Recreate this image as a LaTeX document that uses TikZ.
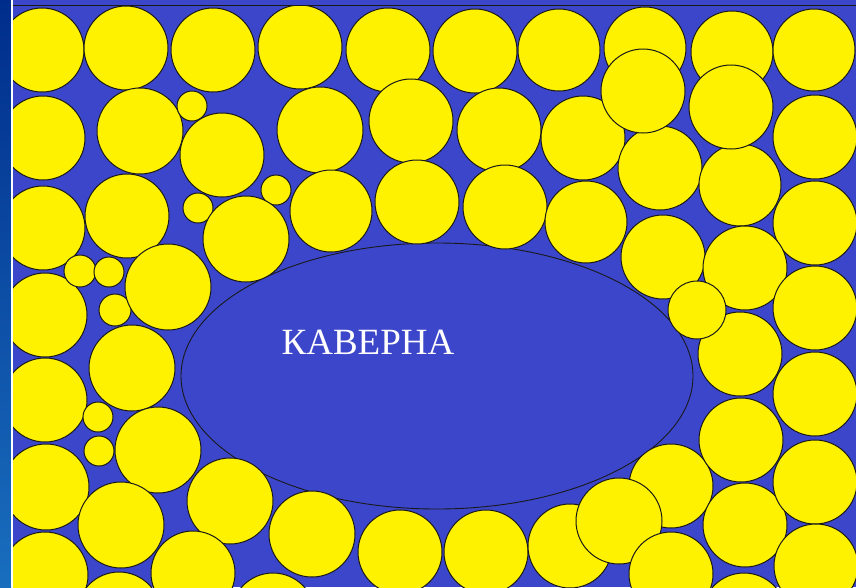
\documentclass[tikz,border=0pt]{standalone}
\usepackage{fontspec}
\setmainfont{Liberation Serif}
\definecolor{cbg}{RGB}{60,70,202}
\definecolor{cgrain}{RGB}{255,242,0}
\definecolor{cnavy}{RGB}{0,45,140}
\definecolor{cstrip}{RGB}{25,110,190}
\tikzset{rock/.style={x=1pt,y=-1pt},
  grain/.style={fill=cgrain,draw=black!90,line width=1pt}}

\begin{document}
\begin{tikzpicture}[rock]
    \useasboundingbox (0,0) rectangle (856,587);
    \fill[cbg] (0,0) rectangle (856,587); % background
    \shade[top color=cnavy,bottom color=cstrip] (0,0) rectangle (11,587); % left strip
    \fill[white] (11,0) rectangle (13,587);
    \draw[black!90,line width=0.9pt,fill=cbg] (437,376) ellipse [x radius=256,y radius=133]; % cavern
    \begin{scope}
      \clip (13,5) rectangle (856,587);
      % top row
      \foreach \x/\y/\r in {42/50/42,126/48/42,213/50/42,300/47/42,388/50/42,475/51/42,
          559/50/41,645/48/41,732/52/41,814/50/41}
        \draw[grain] (\x,\y) circle (\r);
      % second row
      \foreach \x/\y/\r in {43/138/42,140/131/43,192/106/15,222/155/42,320/130/43,411/121/42,
          499/130/42,583/138/42,815/137/42,660/168/42,740/185/41,643/91/42,731/107/42}
        \draw[grain] (\x,\y) circle (\r);
      % third row
      \foreach \x/\y/\r in {43/228/42,127/216/42,198/208/15,276/190/15,246/239/43,331/211/41,
          417/202/42,505/207/42,586/222/41,815/223/42,663/257/42,745/268/42}
        \draw[grain] (\x,\y) circle (\r);
      % left side
      \foreach \x/\y/\r in {45/315/42,80/271/16,109/272/15,115/310/16,168/287/43,132/368/43,
          45/400/42,98/417/15,99/451/15,158/450/43,46/487/43,121/525/43,230/501/43,
          312/534/43,193/573/42,45/575/43,119/614/42,273/615/42}
        \draw[grain] (\x,\y) circle (\r);
      % bottom
      \foreach \x/\y/\r in {400/552/42,486/552/42,570/546/42,671/486/42,619/521/43,
          671/574/42,744/615/42}
        \draw[grain] (\x,\y) circle (\r);
      % right side
      \foreach \x/\y/\r in {815/308/42,740/354/42,815/394/42,741/440/42,745/525/42,
          815/482/42,816/566/42,697/310/29}
        \draw[grain] (\x,\y) circle (\r);
    \end{scope}
    \draw[black!90,line width=1pt] (13,5) -- (856,5); % top line
    \node[white,font=\fontsize{37}{42}\selectfont] (cav) at (368,342) {КАВЕРНА};
  \end{tikzpicture}
\end{document}
